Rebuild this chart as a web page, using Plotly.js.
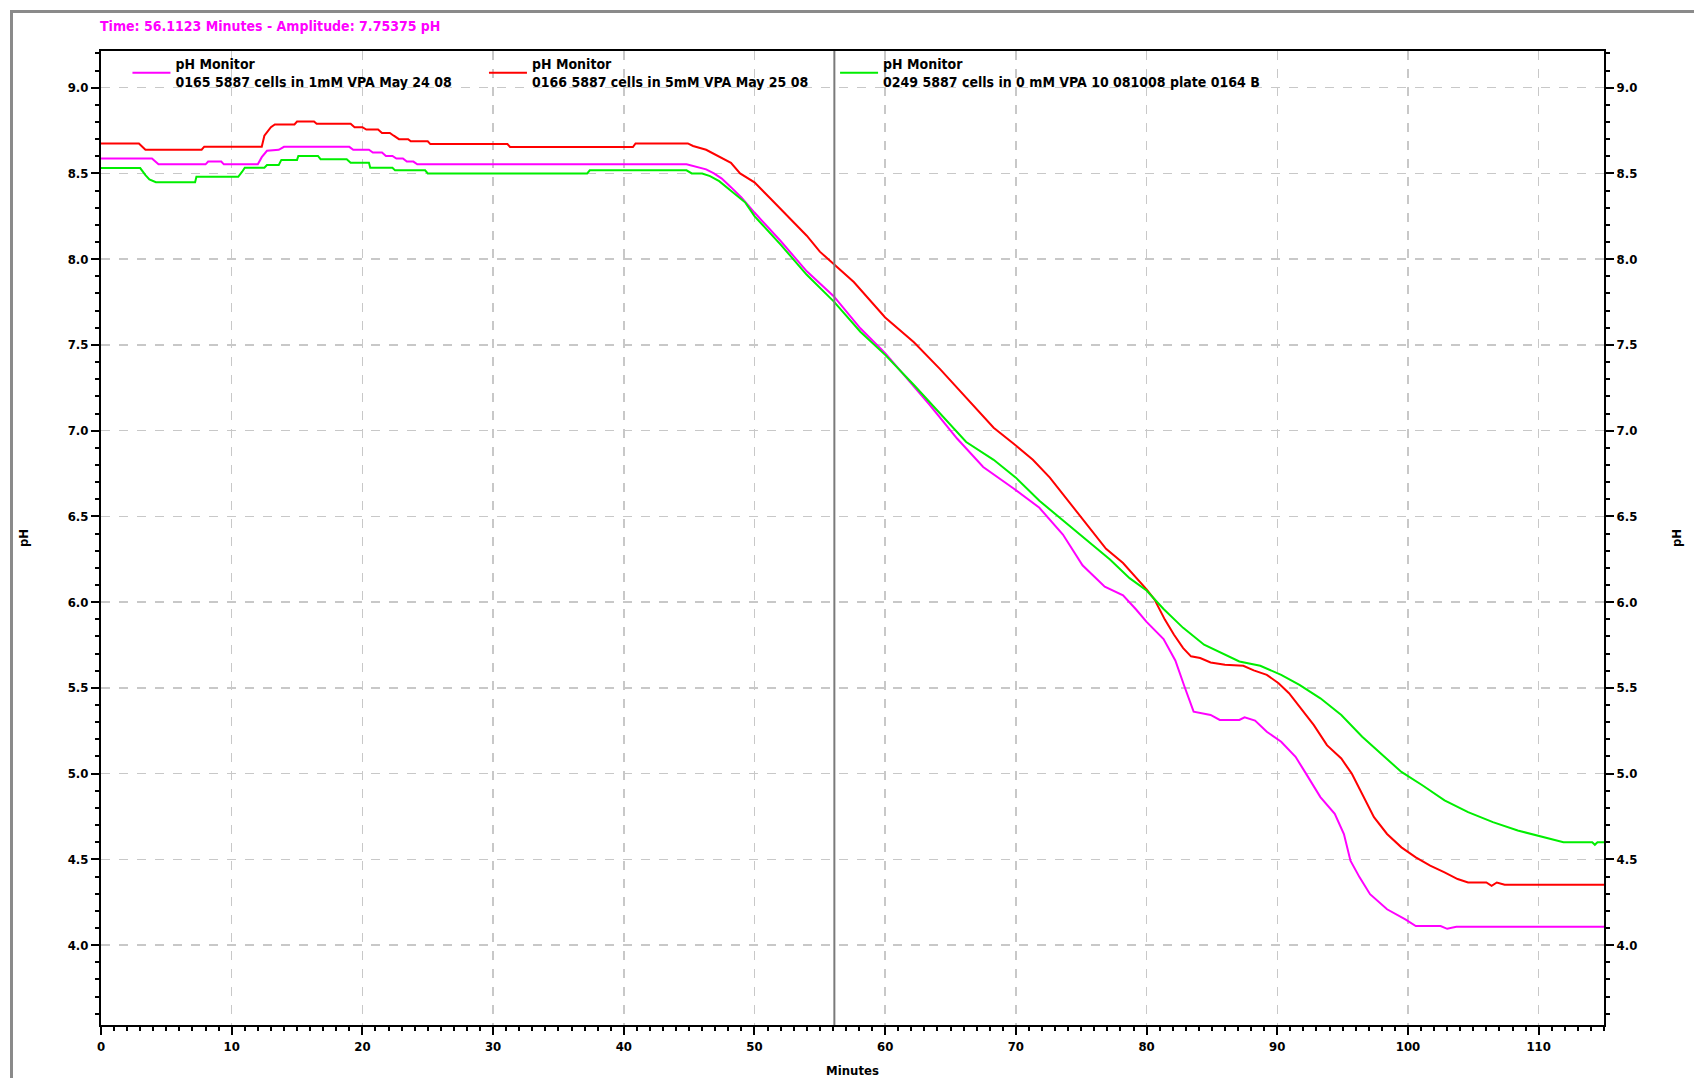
<!DOCTYPE html>
<html>
<head>
<meta charset="utf-8">
<script src="https://cdn.plot.ly/plotly-3.0.1.min.js"></script>
<style>
  html, body { margin: 0; padding: 0; background: #ffffff; }
  #wrap { position: relative; width: 1694px; height: 1078px; overflow: hidden; }
  #chart { position: absolute; left: 0; top: 0; width: 1694px; height: 1078px; }
  #frame {
    position: absolute; left: 10px; top: 10px; width: 1681px; height: 1100px;
    border-left: 3px solid #8a8a8a; border-top: 3px solid #8a8a8a;
    border-right: 1px solid #c8c8c8; pointer-events: none;
  }
</style>
</head>
<body>
<div id="wrap">
  <div id="chart"></div>
  <div id="frame"></div>
</div>
<script>
// pH monitor readings (minutes, pH) for three runs
const seriesNames = [
  "pH Monitor<br>0165 5887 cells in 1mM VPA May 24 08",
  "pH Monitor<br>0166 5887 cells in 5mM VPA May 25 08",
  "pH Monitor<br>0249 5887 cells in 0 mM VPA 10 081008 plate 0164 B"
];

const vpa1Time = [0, 3.9, 4.4, 8.0, 8.2, 9.2, 9.4, 12.0, 12.3, 12.7, 13.6, 14.0, 19.0, 19.3, 20.5, 20.8, 21.5, 21.8, 22.3, 22.6, 23.1, 23.4, 23.9, 24.2, 44.8, 45.5, 46.3, 46.9, 47.5, 48.2, 49.0, 50.0, 52.0, 54.0, 56.06, 58.1, 60.0, 61.4, 63.4, 65.5, 67.5, 69.8, 71.8, 73.6, 75.1, 76.8, 78.2, 79.2, 80.0, 81.3, 82.2, 82.9, 83.6, 84.9, 85.6, 87.1, 87.5, 88.3, 89.2, 90.3, 91.4, 92.2, 93.3, 94.4, 95.1, 95.6, 96.3, 97.1, 98.4, 99.8, 100.6, 102.5, 103.0, 103.7, 115.0];
const vpa1pH = [8.587, 8.587, 8.553, 8.553, 8.569, 8.569, 8.553, 8.553, 8.595, 8.632, 8.638, 8.655, 8.655, 8.638, 8.638, 8.622, 8.622, 8.602, 8.602, 8.587, 8.587, 8.569, 8.569, 8.553, 8.553, 8.540, 8.524, 8.500, 8.470, 8.420, 8.360, 8.272, 8.106, 7.929, 7.784, 7.597, 7.452, 7.328, 7.151, 6.954, 6.788, 6.664, 6.550, 6.394, 6.215, 6.090, 6.040, 5.957, 5.885, 5.785, 5.660, 5.508, 5.361, 5.342, 5.313, 5.313, 5.328, 5.309, 5.244, 5.186, 5.098, 5.000, 4.863, 4.766, 4.648, 4.492, 4.395, 4.297, 4.209, 4.150, 4.111, 4.111, 4.095, 4.107, 4.107];

const vpa5Time = [0, 2.9, 3.4, 7.7, 7.9, 12.3, 12.5, 13.0, 13.3, 14.8, 15.0, 16.3, 16.5, 19.1, 19.4, 20.0, 20.3, 21.2, 21.5, 22.1, 22.4, 22.8, 23.5, 23.7, 25.0, 25.2, 31.1, 31.3, 40.7, 40.9, 44.9, 45.3, 46.3, 46.9, 47.5, 48.2, 48.9, 50.0, 51.2, 52.5, 54.0, 55.0, 56.06, 57.6, 60.0, 62.2, 64.2, 66.2, 68.3, 70.0, 71.3, 72.6, 74.1, 75.4, 76.9, 78.2, 80.0, 80.6, 81.4, 82.1, 82.8, 83.4, 84.1, 84.9, 86.0, 87.4, 88.2, 89.2, 90.1, 90.9, 91.7, 92.8, 93.8, 94.9, 95.7, 96.5, 97.4, 98.4, 99.5, 100.6, 101.7, 102.8, 103.8, 104.6, 106.0, 106.4, 106.8, 107.4, 115.0];
const vpa5pH = [8.675, 8.675, 8.638, 8.638, 8.656, 8.656, 8.720, 8.770, 8.786, 8.786, 8.803, 8.803, 8.790, 8.790, 8.770, 8.770, 8.756, 8.756, 8.736, 8.736, 8.720, 8.700, 8.700, 8.687, 8.687, 8.671, 8.671, 8.654, 8.654, 8.675, 8.675, 8.660, 8.638, 8.614, 8.590, 8.562, 8.500, 8.448, 8.355, 8.251, 8.137, 8.044, 7.971, 7.867, 7.660, 7.515, 7.359, 7.193, 7.017, 6.913, 6.830, 6.726, 6.581, 6.456, 6.311, 6.228, 6.074, 6.016, 5.898, 5.810, 5.732, 5.684, 5.674, 5.648, 5.635, 5.629, 5.602, 5.576, 5.527, 5.469, 5.391, 5.283, 5.166, 5.088, 5.000, 4.883, 4.746, 4.648, 4.570, 4.512, 4.463, 4.424, 4.385, 4.365, 4.365, 4.346, 4.365, 4.352, 4.352];

const vpa0Time = [0, 3.0, 3.4, 3.7, 4.2, 7.2, 7.3, 10.5, 10.8, 11.0, 12.5, 12.7, 13.6, 13.8, 15.0, 15.1, 16.6, 16.8, 18.8, 19.1, 20.5, 20.6, 22.3, 22.5, 24.8, 25.0, 37.2, 37.4, 44.8, 45.2, 46.0, 46.6, 47.3, 48.2, 49.3, 50.0, 52.0, 54.0, 56.06, 58.1, 60.0, 62.2, 64.2, 66.2, 68.3, 70.0, 71.8, 73.6, 75.4, 77.2, 78.7, 80.0, 81.3, 82.8, 84.4, 85.7, 87.1, 88.7, 90.3, 91.7, 93.3, 94.9, 96.5, 98.2, 99.5, 101.1, 102.8, 104.6, 106.5, 108.4, 110.3, 111.9, 114.1, 114.3, 114.5, 115.0];
const vpa0pH = [8.531, 8.531, 8.490, 8.465, 8.449, 8.449, 8.480, 8.480, 8.510, 8.533, 8.533, 8.549, 8.549, 8.579, 8.579, 8.602, 8.602, 8.583, 8.583, 8.563, 8.563, 8.533, 8.533, 8.518, 8.518, 8.500, 8.500, 8.518, 8.518, 8.500, 8.500, 8.484, 8.455, 8.400, 8.330, 8.251, 8.085, 7.909, 7.754, 7.577, 7.442, 7.266, 7.100, 6.934, 6.830, 6.726, 6.591, 6.477, 6.363, 6.249, 6.140, 6.068, 5.960, 5.850, 5.752, 5.703, 5.654, 5.629, 5.576, 5.518, 5.439, 5.342, 5.215, 5.098, 5.010, 4.932, 4.844, 4.775, 4.717, 4.668, 4.629, 4.600, 4.600, 4.585, 4.600, 4.600];

const seriesColors = ["#ff00ff", "#ff0000", "#00ee00"];

// cursor readout
const cursorTime = 56.1123;
const cursorAmplitude = 7.75375;

// axis ticks
const xTickVals = [0, 10, 20, 30, 40, 50, 60, 70, 80, 90, 100, 110];
const yTickVals = [4.0, 4.5, 5.0, 5.5, 6.0, 6.5, 7.0, 7.5, 8.0, 8.5, 9.0];
const xRange = [0, 115];
const yRange = [3.534, 9.214];

const FONT = "DejaVu Sans Condensed, DejaVu Sans, Liberation Sans, sans-serif";
const tickFont = { family: FONT, size: 13, color: "#000000", weight: "bold" };
const textFont = { family: FONT, size: 14, color: "#000000", weight: "bold" };

// each series carries its own legend box along the top edge
const legendIds = ["legend", "legend2", "legend3"];
const legendX = [0.0176, 0.2548, 0.4884];

const traces = [
  { x: vpa1Time, y: vpa1pH, yaxis: "y" },
  { x: vpa5Time, y: vpa5pH, yaxis: "y" },
  { x: vpa0Time, y: vpa0pH, yaxis: "y2" }
].map((s, i) => ({
  type: "scatter", mode: "lines", x: s.x, y: s.y, name: seriesNames[i],
  xaxis: "x", yaxis: s.yaxis,
  legend: legendIds[i],
  line: { color: seriesColors[i], width: 2 },
  hoverinfo: "x+y+name"
}));

const yAxisCommon = {
  range: yRange,
  tickmode: "array", tickvals: yTickVals,
  tickformat: ".1f",
  ticks: "outside", ticklen: 8, tickwidth: 2, tickcolor: "#000",
  minor: { dtick: 0.1, ticks: "outside", ticklen: 4, tickwidth: 2, tickcolor: "#000", showgrid: false },
  showline: true, linecolor: "#000", linewidth: 2,
  tickfont: tickFont,
  zeroline: false,
  fixedrange: true
};

const legendStyle = x => ({
  orientation: "h",
  x: x, xanchor: "left",
  y: 1.003, yanchor: "top",
  bgcolor: "rgba(0,0,0,0)",
  font: textFont,
  itemwidth: 38
});

const layout = {
  width: 1694, height: 1078,
  margin: { l: 101, r: 90, t: 51, b: 53, pad: 0 },
  paper_bgcolor: "#ffffff", plot_bgcolor: "#ffffff",
  font: textFont,
  title: {
    text: "Time: " + cursorTime + " Minutes - Amplitude: " + cursorAmplitude + " pH",
    font: { family: FONT, size: 14, color: "#ff00ff", weight: "bold" },
    xref: "container", yref: "container",
    x: 100 / 1694, xanchor: "left",
    y: 1 - 26 / 1078, yanchor: "middle"
  },
  showlegend: true,
  legend: legendStyle(legendX[0]),
  legend2: legendStyle(legendX[1]),
  legend3: legendStyle(legendX[2]),
  xaxis: {
    range: xRange,
    tickmode: "array", tickvals: xTickVals,
    ticks: "outside", ticklen: 8, tickwidth: 2, tickcolor: "#000",
    minor: { dtick: 1, ticks: "outside", ticklen: 4, tickwidth: 2, tickcolor: "#000", showgrid: false },
    showline: true, linecolor: "#000", linewidth: 2, mirror: true,
    showgrid: true, gridcolor: "#c8c8c8", gridwidth: 1.5, griddash: "dash",
    tickfont: tickFont,
    zeroline: false,
    title: { text: "Minutes", font: tickFont, standoff: 15 },
    fixedrange: true
  },
  yaxis: Object.assign({}, yAxisCommon, {
    side: "left",
    showgrid: true, gridcolor: "#c8c8c8", gridwidth: 1.5, griddash: "dash",
    title: { text: "pH", font: tickFont, standoff: 36 }
  }),
  yaxis2: Object.assign({}, yAxisCommon, {
    side: "right", overlaying: "y",
    showgrid: false,
    title: { text: "pH", font: tickFont, standoff: 36 }
  }),
  shapes: [
    {
      type: "line", xref: "x", yref: "paper",
      x0: cursorTime, x1: cursorTime, y0: 0, y1: 1,
      line: { color: "#7a7a7a", width: 2 }, layer: "above"
    }
  ]
};

Plotly.newPlot("chart", traces, layout, { displayModeBar: false, staticPlot: true });
</script>
</body>
</html>
